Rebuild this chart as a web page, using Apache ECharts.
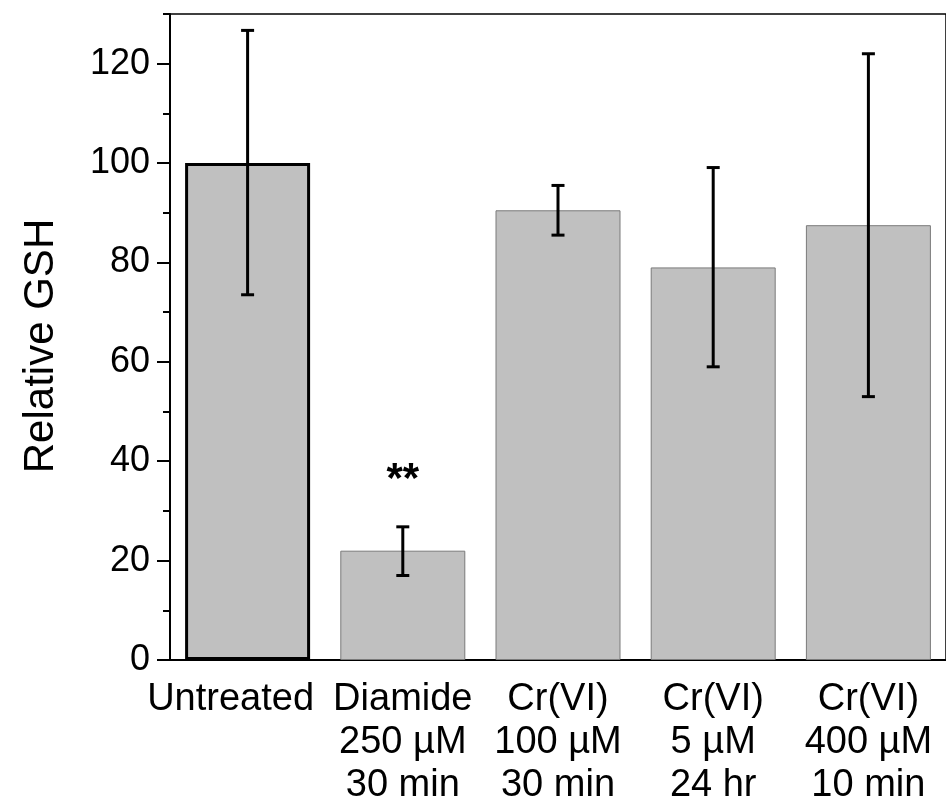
<!DOCTYPE html>
<html>
<head>
<meta charset="utf-8">
<script src="https://cdn.jsdelivr.net/npm/echarts@6/dist/echarts.min.js"></script>
<style>
html, body { margin: 0; padding: 0; background: #fff; }
#main { width: 946px; height: 807px; }
</style>
</head>
<body>
<div id="main"></div>
<script>
// categories (x axis)
var categories = ['Untreated', 'Diamide\n250 µM\n30 min', 'Cr(VI)\n100 µM\n30 min', 'Cr(VI)\n5 µM\n24 hr', 'Cr(VI)\n400 µM\n10 min'];
// mean relative GSH
var values = [100, 22, 90.5, 79, 87.5];
// error bar ends
var errLow = [73.5, 17, 85.5, 59, 53];
var errHigh = [126.7, 26.8, 95.5, 99.1, 122];
// significance marks
var sigMarks = ['', '**', '', '', ''];
// y ticks
var majorTicks = [0, 20, 40, 60, 80, 100, 120];

var myChart = echarts.init(document.getElementById('main'));

var fontFam = '"Liberation Sans", Arial, sans-serif';

// 柱子数据，第一根黑边
var barData = [];
for (var i = 0; i < values.length; i++) {
	barData.push({
		value: values[i],
		itemStyle: i == 0
			? { color: '#c0c0c0', borderColor: '#000', borderWidth: 3 }
			: { color: '#c0c0c0', borderColor: '#7a7a7a', borderWidth: 1 }
	});
}

// x 轴标签，第一个稍微左移
var catData = [];
for (var i = 0; i < categories.length; i++) {
	if (i == 0) {
		catData.push({ value: categories[i], textStyle: { padding: [0, 34, 0, 0] } });
	} else {
		catData.push(categories[i]);
	}
}

var errData = [];
for (var i = 0; i < values.length; i++) {
	errData.push([i, errLow[i], errHigh[i]]);
}

var option = {
	animation: false,
	grid: {
		left: 170, top: 14, width: 782, height: 646,
		show: true, borderColor: '#000', borderWidth: 1.5, backgroundColor: 'transparent'
	},
	xAxis: {
		type: 'category',
		data: catData,
		axisLine: { show: true, lineStyle: { color: '#000', width: 2 } },
		axisTick: { show: false },
		axisLabel: {
			color: '#000', fontSize: 38, fontFamily: fontFam, lineHeight: 43,
			margin: 18, interval: 0, verticalAlign: 'top'
		}
	},
	yAxis: [
		{
			type: 'value', min: 0, max: 130, interval: 20,
			name: 'Relative GSH', nameLocation: 'middle', nameGap: 108,
			nameTextStyle: { color: '#000', fontSize: 42, fontFamily: fontFam, padding: [0, 18, 0, 0] },
			axisLine: { show: true, lineStyle: { color: '#000', width: 2 } },
			axisTick: { show: true, length: 13, lineStyle: { color: '#000', width: 2 }, customValues: majorTicks },
			axisLabel: { color: '#000', fontSize: 36, fontFamily: fontFam, margin: 20, customValues: majorTicks },
			splitLine: { show: false }
		},
		{
			type: 'value', min: 0, max: 130, interval: 10, position: 'left',
			axisLine: { show: false },
			axisTick: { show: true, length: 7, lineStyle: { color: '#000', width: 2 } },
			axisLabel: { show: false },
			splitLine: { show: false }
		}
	],
	series: [
		{
			type: 'bar',
			data: barData,
			barWidth: 125,
			yAxisIndex: 0
		},
		{
			type: 'custom',
			yAxisIndex: 0,
			z: 10,
			data: errData,
			renderItem: function(params, api) {
				var x = api.value(0);
				var lo = api.coord([x, api.value(1)]);
				var hi = api.coord([x, api.value(2)]);
				var hw = 6.5;
				var st = { stroke: '#000', lineWidth: 3 };
				var kids = [
					{ type: 'line', shape: { x1: lo[0], y1: lo[1], x2: hi[0], y2: hi[1] }, style: st },
					{ type: 'line', shape: { x1: lo[0] - hw, y1: lo[1], x2: lo[0] + hw, y2: lo[1] }, style: st },
					{ type: 'line', shape: { x1: hi[0] - hw, y1: hi[1], x2: hi[0] + hw, y2: hi[1] }, style: st }
				];
				var mark = sigMarks[params.dataIndex];
				if (mark) {
					kids.push({
						type: 'text',
						style: {
							text: mark, x: hi[0], y: hi[1] - 46,
							fill: '#000', font: 'bold 42px ' + fontFam,
							align: 'center', verticalAlign: 'middle'
						}
					});
				}
				return { type: 'group', children: kids };
			}
		}
	]
};

myChart.setOption(option);
</script>
</body>
</html>
